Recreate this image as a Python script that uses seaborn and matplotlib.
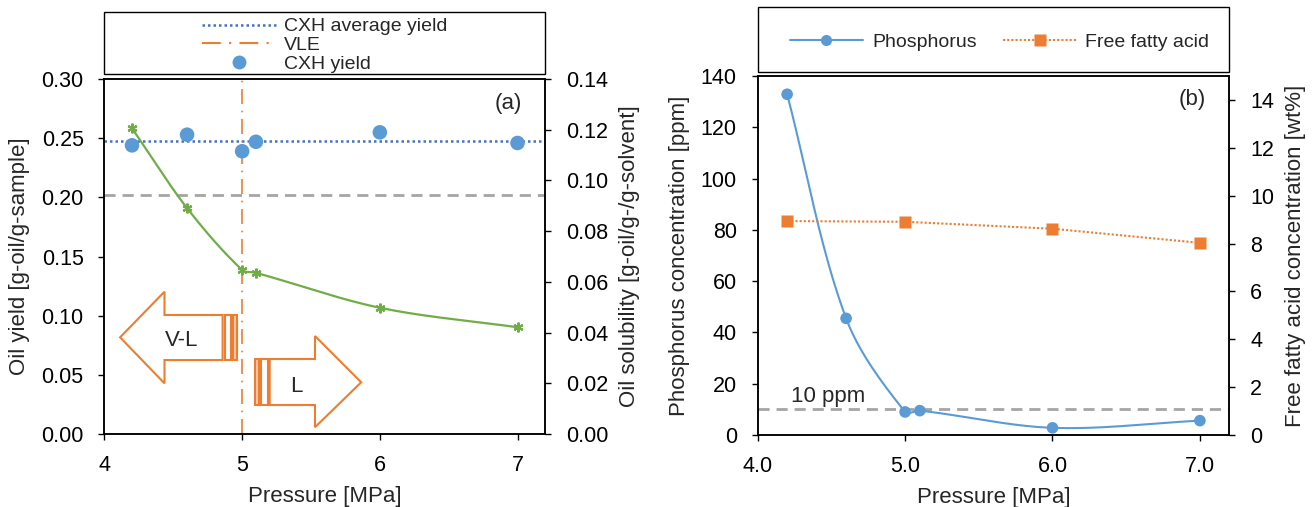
import numpy as np
import pandas as pd
import seaborn as sns
import matplotlib
matplotlib.use('Agg')
from matplotlib import pyplot as plt
from matplotlib.lines import Line2D
from matplotlib.patches import Polygon, Rectangle

# DATA

pressure_a = [4.2, 4.6, 5.0, 5.1, 6.0, 7.0]
cxh_yield = [0.244, 0.253, 0.239, 0.247, 0.255, 0.246]
solubility = [0.1206, 0.0891, 0.0647, 0.0636, 0.0498, 0.0421]
vle_pressure = 5.0
ref_line_a = 0.202

pressure_p = [4.2, 4.6, 5.0, 5.1, 6.0, 7.0]
phosphorus = [132.9, 45.5, 9.0, 9.5, 2.8, 5.6]
pressure_f = [4.2, 5.0, 6.0, 7.0]
ffa = [8.94, 8.91, 8.62, 8.03]
limit_ppm = 10

# STYLE

sns.set_style('ticks')
plt.rcParams['font.family'] = ['Liberation Sans', 'DejaVu Sans']
plt.rcParams['axes.linewidth'] = 1.1

blue = '#5B9BD5'
dark_blue = '#4472C4'
orange = '#ED7D31'
light_orange = '#F8CBAD'
green = '#70AD47'
gray = '#A5A5A5'

TICK = 15.5
LAB = 16
LEG = 14


def smooth(ax, xs, ys, n=40):
    # excel-like bezier smoothing, done in display space
    p = ax.transData.transform(np.column_stack([xs, ys]))
    ext = np.vstack([p[0], p, p[-1]])
    out = []
    for i in range(len(p) - 1):
        p0, p1, p2, p3 = ext[i], ext[i + 1], ext[i + 2], ext[i + 3]
        d01 = np.linalg.norm(p1 - p0)
        d12 = np.linalg.norm(p2 - p1)
        d23 = np.linalg.norm(p3 - p2)
        c1 = p1 + (p2 - p0) * (d12 / (d01 + d12)) / 3
        c2 = p2 - (p3 - p1) * (d12 / (d12 + d23)) / 3
        t = np.linspace(0, 1, n)[:, None]
        seg = (1 - t) ** 3 * p1 + 3 * (1 - t) ** 2 * t * c1 + 3 * (1 - t) * t ** 2 * c2 + t ** 3 * p2
        out.append(seg if i == 0 else seg[1:])
    pts = ax.transData.inverted().transform(np.vstack(out))
    return pd.DataFrame({'x': pts[:, 0], 'y': pts[:, 1]})


def style_ax(ax):
    ax.tick_params(direction='out', length=4, width=1, pad=11, labelsize=TICK, colors='black')
    for s in ax.spines.values():
        s.set_visible(True)
        s.set_color('black')


fig = plt.figure(figsize=(13.14, 5.07), dpi=100)

# PANEL (a)

ax1 = fig.add_axes([0.0795, 0.144, 0.3353, 0.700])
ax1b = ax1.twinx()
ax1.set_xlim(4, 7.2)
ax1.set_ylim(0, 0.30)
ax1b.set_ylim(0, 0.14)
ax1.set_xticks([4, 5, 6, 7])
ax1.set_yticks(np.arange(0, 0.31, 0.05))
ax1b.set_yticks(np.arange(0, 0.141, 0.02))
ax1.yaxis.set_major_formatter(matplotlib.ticker.FormatStrFormatter('%.2f'))
ax1b.yaxis.set_major_formatter(matplotlib.ticker.FormatStrFormatter('%.2f'))

ax1.axhline(ref_line_a, color=gray, lw=2, ls=(0, (4, 2.5)), zorder=1)
ax1.axhline(np.mean(cxh_yield), color=dark_blue, lw=1.8, ls=(0, (1, 1.2)), zorder=2)
ax1.axvline(vle_pressure, color=orange, lw=1.2, ls=(0, (9, 4, 1, 4)), zorder=2)
sns.scatterplot(x=pressure_a, y=cxh_yield, ax=ax1, color=blue, s=110, edgecolor='none', zorder=3)

sol_curve = smooth(ax1b, pressure_a, solubility)
sns.lineplot(data=sol_curve, x='x', y='y', ax=ax1b, color=green, lw=1.6, sort=False, estimator=None)
ax1b.plot(pressure_a, solubility, ls='none', marker=(6, 2, 0), ms=7, mew=1.6, color=green)

# phase arrows
arrow_kw = dict(edgecolor=orange, lw=1.5, zorder=4)
ax1.add_patch(Polygon([(4.1135, 0.0817), (4.436, 0.1203), (4.436, 0.1006), (4.8581, 0.1006),
                       (4.8581, 0.0625), (4.436, 0.0625), (4.436, 0.0428)],
                      closed=True, facecolor='white', **arrow_kw))
ax1.add_patch(Rectangle((4.8726, 0.0625), 0.0437, 0.0381, facecolor='white', **arrow_kw))
ax1.add_patch(Rectangle((4.9338, 0.0625), 0.0291, 0.0381, facecolor=light_orange, **arrow_kw))
ax1.add_patch(Polygon([(5.2001, 0.0245), (5.2001, 0.0634), (5.5291, 0.0634), (5.5291, 0.0828),
                       (5.8646, 0.0437), (5.5291, 0.0057), (5.5291, 0.0245)],
                      closed=True, facecolor='white', **arrow_kw))
ax1.add_patch(Rectangle((5.0961, 0.0245), 0.0291, 0.0389, facecolor=light_orange, **arrow_kw))
ax1.add_patch(Rectangle((5.1397, 0.0245), 0.0459, 0.0389, facecolor='white', **arrow_kw))
ax1.text(4.563, 0.0794, 'V-L', fontsize=LAB, ha='center', va='center', zorder=5)
ax1.text(5.392, 0.0400, 'L', fontsize=LAB, ha='center', va='center', zorder=5)
ax1.text(6.93, 0.2797, '(a)', fontsize=LAB, ha='center', va='center')

ax1.set_xlabel('Pressure [MPa]', fontsize=LAB, labelpad=7)
ax1.set_ylabel('Oil yield [g-oil/g-sample]', fontsize=LAB, labelpad=8)
ax1b.set_ylabel('Oil solubility [g-oil/g-/g-solvent]', fontsize=LAB, labelpad=8)
style_ax(ax1)
style_ax(ax1b)

handles_a = [
    Line2D([], [], color=dark_blue, lw=1.8, ls=(0, (1, 1.2))),
    Line2D([], [], color=orange, lw=1.5, ls=(0, (9, 4, 1, 4))),
    Line2D([], [], color=blue, ls='none', marker='o', ms=10, mec='none'),
]
fig.legend(handles_a, ['CXH average yield', 'VLE', 'CXH yield'], loc='center',
           bbox_to_anchor=(0.2471, 0.911), frameon=False, fontsize=LEG,
           handlelength=3.8, handletextpad=0.4, labelspacing=0.05, borderpad=0)
fig.add_artist(Rectangle((0.0795, 0.8546), 0.3353, 0.1217, transform=fig.transFigure,
                         fill=False, edgecolor='black', lw=1))

# PANEL (b)

ax2 = fig.add_axes([0.5766, 0.142, 0.359, 0.708])
ax2b = ax2.twinx()
ax2.set_xlim(4, 7.2)
ax2.set_ylim(0, 140)
ax2b.set_ylim(0, 15)
ax2.set_xticks([4, 5, 6, 7])
ax2.xaxis.set_major_formatter(matplotlib.ticker.FormatStrFormatter('%.1f'))
ax2.set_yticks(np.arange(0, 141, 20))
ax2b.set_yticks(np.arange(0, 15, 2))

ax2.axhline(limit_ppm, color=gray, lw=2, ls=(0, (4, 2.5)), zorder=1)
ax2.text(4.477, 14.9, '10 ppm', fontsize=LAB, ha='center', va='center')

p_curve = smooth(ax2, pressure_p, phosphorus)
sns.lineplot(data=p_curve, x='x', y='y', ax=ax2, color=blue, lw=1.5, sort=False, estimator=None)
sns.scatterplot(x=pressure_p, y=phosphorus, ax=ax2, color=blue, s=70, edgecolor='none', zorder=3)

ax2b.plot(pressure_f, ffa, color=orange, lw=1.5, ls=(0, (1, 1)), marker='s', ms=8, mec='none')
ax2.text(6.95, 131, '(b)', fontsize=LAB, ha='center', va='center')

ax2.set_xlabel('Pressure [MPa]', fontsize=LAB, labelpad=7)
ax2.set_ylabel('Phosphorus concentration [ppm]', fontsize=LAB, labelpad=8)
ax2b.set_ylabel('Free fatty acid concentration [wt%]', fontsize=LAB, labelpad=8)
style_ax(ax2)
style_ax(ax2b)

handles_b = [
    Line2D([], [], color=blue, lw=1.5, marker='o', ms=8, mec='none'),
    Line2D([], [], color=orange, lw=1.5, ls=(0, (1, 1)), marker='s', ms=8, mec='none'),
]
fig.legend(handles_b, ['Phosphorus', 'Free fatty acid'], loc='center', ncol=2,
           bbox_to_anchor=(0.7607, 0.917), frameon=False, fontsize=LEG,
           handlelength=3.75, handletextpad=0.47, columnspacing=1.37, borderpad=0)
fig.add_artist(Rectangle((0.5772, 0.858), 0.3581, 0.1282, transform=fig.transFigure,
                         fill=False, edgecolor='black', lw=1))

plt.savefig('out.png', dpi=100)
